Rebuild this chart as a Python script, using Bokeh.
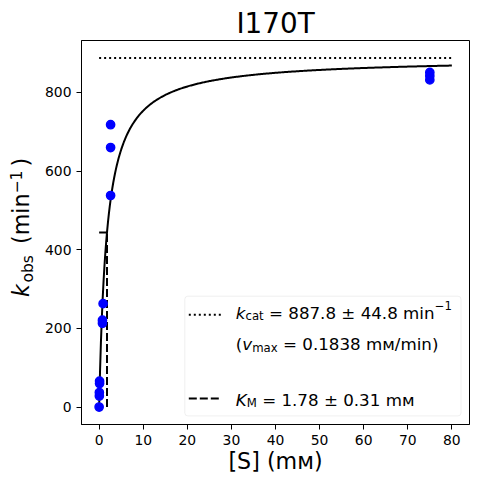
import numpy as np
from bokeh.plotting import figure
from bokeh.models import Label, BoxAnnotation, Range1d, FixedTicker, Title
from bokeh.embed import file_html
from bokeh.resources import INLINE

# ---- data ----
title_text = "I170T"
kcat = 887.8
kcat_err = 44.8
vmax = 0.1838
km = 1.78
km_err = 0.31
s_max = 80

s_obs = [0.0, 0.05, 0.05, 0.1, 0.1, 0.75, 0.75, 0.9, 2.6, 2.6, 2.6, 75.0, 75.0, 75.0]
k_obs = [0, 28, 37, 60, 66, 213, 221, 263, 538, 660, 718, 832, 842, 851]

x_ticks = [0, 10, 20, 30, 40, 50, 60, 70, 80]
y_ticks = [0, 200, 400, 600, 800]

FONT = "DejaVu Sans"
DOT = "2 3"
DASH = "8 3"

# ---- layout ----
W, H = 470, 476
BL, BR, BT, BB = 81, 1, 40, 52
FW, FH = W - BL - BR, H - BT - BB

xr0, xr1 = -0.05 * s_max, 1.05 * s_max
yr0, yr1 = -0.05 * kcat, 1.05 * kcat


def fx(px):
    return xr0 + px * (xr1 - xr0) / FW


def fy(py):
    return yr0 + py * (yr1 - yr0) / FH


p = figure(width=W, height=H, x_range=Range1d(xr0, xr1), y_range=Range1d(yr0, yr1),
           output_backend="svg", toolbar_location=None,
           min_border_left=BL, min_border_right=BR, min_border_top=BT, min_border_bottom=BB)
p.xgrid.visible = False
p.ygrid.visible = False
p.outline_line_color = "black"
p.outline_line_width = 1
p.outline_line_alpha = 1
p.background_fill_color = "white"
p.border_fill_color = "white"

p.title.text = title_text
p.title.text_font = FONT
p.title.text_font_size = "27.8px"
p.title.text_font_style = "normal"
p.title.text_color = "black"
p.title.align = "center"
p.title.standoff = 2

for ax, ticks in ((p.xaxis, x_ticks), (p.yaxis, y_ticks)):
    ax.ticker = FixedTicker(ticks=ticks)
    ax.major_label_text_font = FONT
    ax.major_label_text_font_size = "13.9px"
    ax.major_label_text_color = "black"
    ax.major_tick_out = 5
    ax.major_tick_in = 0
    ax.minor_tick_out = 0
    ax.minor_tick_in = 0
    ax.major_tick_line_color = "black"
    ax.axis_line_color = "black"
    ax.major_label_standoff = 5

p.xaxis.axis_label = "[S] (mᴍ)"
p.xaxis.axis_label_text_font = FONT
p.xaxis.axis_label_text_font_size = "22.2px"
p.xaxis.axis_label_text_font_style = "normal"
p.xaxis.axis_label_text_color = "black"
p.xaxis.axis_label_standoff = 0

# ---- fit curve and guide lines ----
s_fit = np.linspace(0, s_max, 400)
k_fit = kcat * s_fit / (km + s_fit)

p.line([0, s_max], [kcat, kcat], line_color="black", line_width=2, line_dash=DOT)
p.line([km, km], [0, kcat / 2], line_color="black", line_width=2, line_dash=DASH)
p.line([0, km], [kcat / 2, kcat / 2], line_color="black", line_width=2, line_dash=DASH)
p.line(s_fit, k_fit, line_color="black", line_width=2)
p.scatter(s_obs, k_obs, size=8.3, marker="circle", fill_color="#0000ff", line_color="#0000ff", line_width=1.4)

# ---- advance widths (em) for DejaVu Sans ----
ADV = {" ": .318, "(": .390, ")": .390, "−": .838, "=": .838, "±": .838, ".": .318, "/": .337,
       "a": .613, "b": .635, "c": .550, "i": .278, "m": .974, "n": .634, "o": .612, "s": .521,
       "t": .392, "x": .592, "v": .592, "k": .580, "K": .656, "M": .863, "ᴍ": .75}
for d in "0123456789":
    ADV[d] = .636


def width(t, size):
    return sum(ADV.get(c, .6) for c in t) * size


def compose(pieces, x0, y0, size):
    """Legend text: pieces (text, kind, italic); x0, y0 pixel offsets from the frame's lower left."""
    pos = 0.0
    for text, kind, italic in pieces:
        fs = size if kind == "main" else size * 0.7
        shift = {"main": 0.0, "sub": -0.21 * size, "sup": 0.47 * size}[kind]
        lead = len(text) - len(text.lstrip(" "))
        pos += width(" " * lead, fs)
        body = text.lstrip(" ")
        lab = Label(x=xr0, y=yr0, x_offset=x0 + pos, y_offset=y0 + shift, text=body,
                    text_font=FONT, text_font_size=f"{fs:.1f}px",
                    text_font_style="italic" if italic else "normal",
                    text_align="left", text_baseline="alphabetic", text_color="black")
        p.add_layout(lab)
        pos += width(body, fs)


# ---- y axis label, built from titles in the left panel ----
YF = 22.2
YS = YF * 0.7
R_AX = -37.0          # estimated outer edge of the y axis panel (relative to frame left)
B_MAIN = -49.7        # baseline of the main text (relative to frame left)
ylab = [("k", "main", True, 1.5), ("obs", "sub", False, 4.0), (" (min", "main", False, 0.0),
        ("−1", "sup", False, 4.0), (")", "main", False, 0.0)]
along = []
pos = 127.6
for text, kind, italic, extra in ylab:
    fs = YF if kind == "main" else YS
    lead = len(text) - len(text.lstrip(" "))
    pos += width(" " * lead, fs)
    along.append(pos)
    pos += width(text.lstrip(" "), fs) + extra


def bottom_edge(kind):
    if kind == "main":
        return B_MAIN + 0.236 * YF
    if kind == "sub":
        return B_MAIN + 0.21 * YF + 0.236 * YS
    return B_MAIN - 0.47 * YF + 0.236 * YS


order = [1, 0, 2, 4, 3]   # subscript first, superscript last
right = R_AX
for i in order:
    text, kind, italic, _ = ylab[i]
    fs = YF if kind == "main" else YS
    s = 2 * (right - bottom_edge(kind))
    t = Title(text=text.lstrip(" "), align="left", vertical_align="bottom", offset=along[i],
              standoff=s, text_font=FONT, text_font_size=f"{fs:.2f}px",
              text_font_style="italic" if italic else "normal", text_color="black")
    p.add_layout(t, "left")
    w = 2 + 1.164 * fs + s
    if w > 0:
        right -= w

# ---- legend ----
LF = 16.7
p.add_layout(BoxAnnotation(left=fx(103.3), right=fx(379.5), bottom=fy(8.6), top=fy(128.3),
                           fill_color="white", fill_alpha=0.8, line_color="#cccccc",
                           line_width=1, border_radius=3, level="underlay"))
p.line([fx(107.3), fx(140.3)], [fy(109.8), fy(109.8)], line_color="black", line_width=2,
       line_dash=DOT)
p.line([fx(107.3), fx(140.3)], [fy(26), fy(26)], line_color="black", line_width=2,
       line_dash=DASH)

tx = 154.3
compose([("k", "main", True), ("cat", "sub", False),
         (f" = {kcat} ± {kcat_err} min", "main", False), ("−1", "sup", False)], tx, 111.6, LF)
compose([("(", "main", False), ("v", "main", True), ("max", "sub", False),
         (f" = {vmax} mᴍ/min)", "main", False)], tx, 80.3, LF)
compose([("K", "main", True), ("M", "sub", False),
         (f" = {km} ± {km_err} mᴍ", "main", False)], tx, 25.0, LF)

open("out.html", "w").write(file_html(p, INLINE))
